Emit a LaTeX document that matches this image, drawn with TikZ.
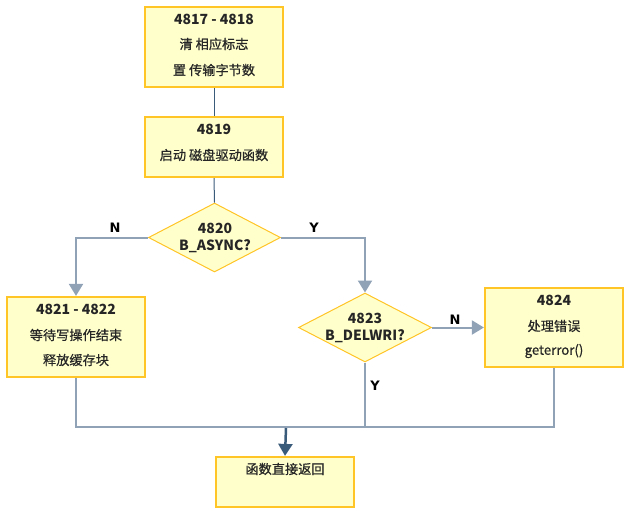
\documentclass[tikz,border=0pt]{standalone}
\usepackage{fontspec}
\setmainfont{Noto Sans CJK SC}
\newfontfamily\cjkmed{Noto Sans CJK SC}[FakeBold=0.6]
\newfontfamily\labfont{DejaVu Sans}
\usetikzlibrary{shapes.geometric,arrows.meta}
\definecolor{boxfill}{HTML}{FFFFCC}
\definecolor{boxdraw}{HTML}{FFC425}
\definecolor{darkline}{HTML}{3B5B7B}
\definecolor{greyline}{HTML}{8FA2B6}
\tikzset{
  procbox/.style={draw=boxdraw,fill=boxfill,line width=2.2pt,rectangle,inner sep=0pt},
  decbox/.style={draw=boxdraw,fill=boxfill,line width=1pt,diamond,inner sep=0pt},
  txt/.style={font=\cjkmed\fontsize{13.2}{15}\selectfont,inner sep=0pt,text=black!85},
  btxt/.style={font=\fontsize{14}{16}\selectfont\bfseries,inner sep=0pt,text=black!85},
  lab/.style={font=\labfont\fontsize{13}{15}\selectfont\bfseries,inner sep=0pt},
  thinlink/.style={draw=darkline,line width=1pt},
  greylink/.style={draw=greyline,line width=2pt},
  greyarrow/.style={greylink,-{Triangle[length=12pt,width=14pt]}},
  darkarrow/.style={draw=darkline,line width=2.5pt,-{Triangle[length=12pt,width=14pt]}}
}
\begin{document}
\begin{tikzpicture}[x=1pt,y=-1pt]
\useasboundingbox (0,0) rectangle (631,515);
% boxes
\node[procbox,minimum width=138pt,minimum height=80pt] (b1) at (214,47) {};
\node[procbox,minimum width=138pt,minimum height=60pt] (b2) at (214,147) {};
\node[decbox,minimum width=132pt,minimum height=69pt] (d1) at (214.5,237.5) {};
\node[procbox,minimum width=138pt,minimum height=80pt] (b3) at (76,337) {};
\node[decbox,minimum width=133pt,minimum height=69pt] (d2) at (365,327.5) {};
\node[procbox,minimum width=138pt,minimum height=79pt] (b4) at (554,327.5) {};
\node[procbox,minimum width=138pt,minimum height=50pt] (b5) at (285,482) {};
% texts
\node[btxt] (t1a) at (214,19) {4817 - 4818};
\node[txt] (t1b) at (214,44) {清 相应标志};
\node[txt] (t1c) at (214,70) {置 传输字节数};
\node[btxt] (t2a) at (214,129) {4819};
\node[txt] (t2b) at (214,155) {启动 磁盘驱动函数};
\node[btxt] (t3a) at (215,228) {4820};
\node[btxt] (t3b) at (215,246) {B\_ASYNC?};
\node[btxt] (t4a) at (76,309) {4821 - 4822};
\node[txt] (t4b) at (76,335) {等待写操作结束};
\node[txt] (t4c) at (76,360) {释放缓存块};
\node[btxt] (t5a) at (365,318) {4823};
\node[btxt] (t5b) at (365,336) {B\_DELWRI?};
\node[btxt] (t6a) at (554,300) {4824};
\node[txt] (t6b) at (554,326) {处理错误};
\node[txt] (t6c) at (554,351) {geterror()};
\node[txt] (t7a) at (285,469) {函数直接返回};
% connector labels
\node[lab] (ln1) at (115,228) {N};
\node[lab] (ly1) at (314,228) {Y};
\node[lab] (ln2) at (455,320) {N};
\node[lab] (ly2) at (375,386) {Y};
% connectors
\coordinate (j) at (286,427);
\draw[thinlink] (b1.south) -- (b2.north);
\draw[thinlink] (b2.south) -- (d1.north);
\draw[greyarrow] (d1.west) -| (b3.north);
\draw[greyarrow] (d1.east) -| (d2.north);
\draw[greyarrow] (d2.east) -- (b4.west);
\draw[greylink] (b3.south) |- (j) -| (b4.south);
\draw[greylink] (d2.south) -- (d2.south |- j);
\draw[darkarrow] ([yshift=-1pt]j) -- (b5.north);
\end{tikzpicture}
\end{document}
